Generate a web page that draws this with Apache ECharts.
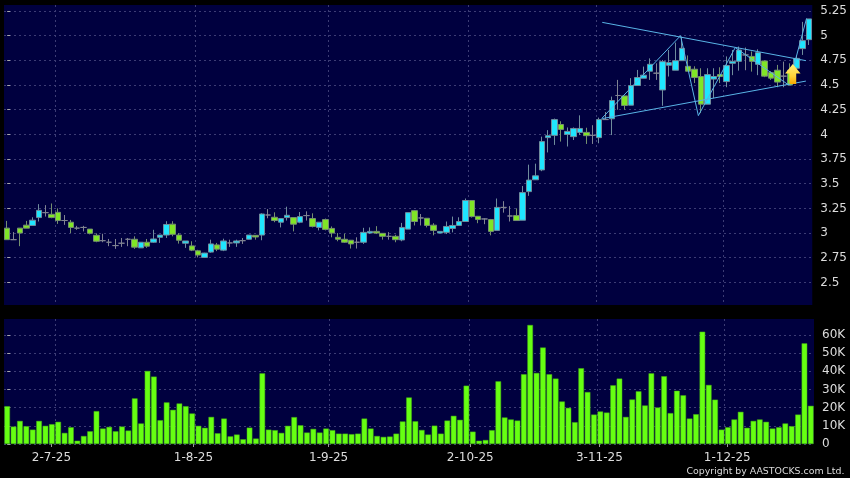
<!DOCTYPE html>
<html><head><meta charset="utf-8">
<style>html,body{margin:0;padding:0;background:#000}#c{width:850px;height:478px}</style>
<script src="https://cdn.jsdelivr.net/npm/echarts@6/dist/echarts.min.js"></script>
</head><body><div id="c"></div>
<script>
const opens=[3.05,2.933,3.05,3.08,3.077,3.157,3.207,3.19,3.21,3.127,3.11,3.05,3.057,3.04,2.977,2.923,2.907,2.873,2.897,2.937,2.937,2.85,2.907,2.907,2.957,2.98,3.09,2.98,2.897,2.87,2.82,2.753,2.807,2.88,2.827,2.9,2.9,2.923,2.937,2.977,2.98,3.183,3.16,3.11,3.157,3.157,3.11,3.177,3.147,3.057,3.137,3.047,2.957,2.937,2.927,2.907,2.907,3.0,3.017,2.997,2.967,2.967,2.93,3.04,3.227,3.153,3.15,3.08,3.0,3.007,3.047,3.077,3.117,3.33,3.17,3.143,3.137,3.027,3.26,3.173,3.177,3.13,3.42,3.54,3.64,3.967,3.99,4.1,4.0,3.977,4.02,4.02,3.99,3.967,4.15,4.158,4.394,4.39,4.296,4.495,4.569,4.64,4.62,4.45,4.7,4.65,4.747,4.69,4.66,4.586,4.306,4.56,4.606,4.535,4.72,4.74,4.805,4.79,4.71,4.744,4.626,4.65,4.59,4.65,4.67,4.869,4.96];
const closes=[2.933,2.933,3.0,3.05,3.13,3.23,3.207,3.157,3.127,3.127,3.057,3.05,3.057,2.997,2.917,2.923,2.907,2.873,2.897,2.937,2.857,2.907,2.867,2.94,2.98,3.087,2.987,2.927,2.92,2.827,2.777,2.797,2.89,2.837,2.92,2.9,2.92,2.923,2.98,2.96,3.193,3.183,3.127,3.147,3.18,3.09,3.167,3.177,3.067,3.11,3.037,3.0,2.937,2.907,2.89,2.907,3.007,3.017,3.0,2.967,2.967,2.933,3.057,3.207,3.117,3.153,3.077,3.027,3.017,3.067,3.077,3.117,3.33,3.167,3.137,3.143,3.017,3.26,3.26,3.173,3.127,3.41,3.537,3.58,3.927,3.987,4.15,4.05,4.03,4.06,4.06,3.987,3.99,4.15,4.15,4.343,4.394,4.293,4.495,4.576,4.6,4.71,4.62,4.737,4.727,4.747,4.872,4.64,4.576,4.306,4.606,4.586,4.586,4.697,4.74,4.855,4.805,4.74,4.828,4.59,4.57,4.53,4.59,4.5,4.77,4.95,5.17];
const lows=[2.93,2.933,2.867,3.05,3.077,3.117,3.167,3.15,3.093,3.083,3.0,3.033,3.017,2.987,2.907,2.907,2.867,2.84,2.86,2.867,2.84,2.85,2.85,2.9,2.9,2.95,2.967,2.893,2.85,2.817,2.753,2.747,2.8,2.817,2.817,2.86,2.86,2.89,2.933,2.933,2.927,3.15,3.11,3.057,3.127,3.017,3.1,3.127,3.057,3.027,3.027,2.957,2.917,2.9,2.843,2.843,2.89,2.99,2.99,2.933,2.933,2.907,2.917,3.04,3.077,3.077,3.057,2.977,3.0,2.99,3.007,3.077,3.117,3.157,3.1,3.09,2.977,3.027,3.207,3.117,3.127,3.13,3.377,3.54,3.627,3.817,3.893,3.927,3.877,3.943,3.993,3.903,3.903,3.91,4.15,3.993,4.25,4.25,4.296,4.495,4.57,4.552,4.552,4.29,4.586,4.65,4.747,4.64,4.52,4.215,4.306,4.367,4.52,4.478,4.6,4.646,4.65,4.636,4.6,4.58,4.552,4.478,4.478,4.5,4.66,4.805,4.906];
const highs=[3.123,3.01,3.05,3.123,3.16,3.293,3.283,3.3,3.25,3.183,3.133,3.073,3.073,3.04,2.997,2.993,2.94,2.94,2.95,2.95,2.967,2.907,2.94,3.033,2.98,3.12,3.12,3.0,2.92,2.917,2.83,2.8,2.933,2.9,2.943,2.933,2.933,2.95,2.98,2.98,3.2,3.243,3.21,3.147,3.267,3.157,3.213,3.22,3.2,3.11,3.147,3.067,3.0,2.993,2.93,2.957,3.053,3.057,3.07,3.0,3.01,2.983,3.103,3.207,3.233,3.193,3.15,3.1,3.017,3.117,3.167,3.16,3.35,3.33,3.17,3.15,3.143,3.35,3.323,3.273,3.25,3.477,3.693,3.703,3.977,4.043,4.16,4.133,4.07,4.07,4.193,4.067,4.093,4.17,4.227,4.383,4.552,4.39,4.57,4.653,4.687,4.77,4.72,4.754,4.855,4.93,4.99,4.8,4.69,4.67,4.67,4.67,4.68,4.79,4.855,4.89,4.88,4.84,4.862,4.75,4.64,4.704,4.737,4.72,4.8,5.14,5.17];
const volumes=[20.8,9.6,12.7,9.8,7.9,12.7,10,10.9,12.2,6.1,9.2,1.8,4.4,7,18.1,8.5,9.4,7,9.6,7.4,25.1,11.3,40.2,37.1,13.1,22.9,18.8,22.3,20.8,16.8,10,8.9,14.9,5.9,14,4.2,5.2,2.6,9,3,38.9,7.9,7.6,6.1,10,14.8,10.3,6.3,8.3,6.3,8.5,7.6,5.7,5.7,5.4,5.7,14,8.5,4.4,3.9,4.1,5.7,12.4,25.6,12.5,7.7,5.2,10.1,5.7,12.9,15.5,13.3,32.1,6.8,1.8,2.2,7.6,34.5,14.6,13.5,12.9,38.4,65.5,39.1,53.1,38.4,36,23.4,19.9,12,41.7,28.6,16.2,17.9,17.3,32.3,36,14.9,24.5,29,21.2,38.9,20.1,37.3,17,29.3,26.8,14,16.4,61.8,32.5,24.4,7.9,9.2,13.5,17.7,8.9,12.7,13.5,12.2,8.5,9.2,11.3,9.8,16.2,55.4,21];
const categories=opens.map((_,i)=>String(i));
const priceTicks=[2.5,2.75,3,3.25,3.5,3.75,4,4.25,4.5,4.75,5,5.25];
const volumeTicks=[0,10,20,30,40,50,60];
const dateLabels=['2-7-25','1-8-25','1-9-25','2-10-25','3-11-25','1-12-25'];
const dateTickPos=[6.94,29.2,50.4,72.6,92.85,112.9];
const dateGridPos=[7.5,29.5,50.5,72.5,92.5,112.5];
const upperTrend=[[93.5,5.135],[125.5,4.747]];
const lowerTrend=[[93.5,4.16],[125.5,4.54]];
const zigzag=[[93.4,4.16],[105.8,5.0],[108.6,4.19],[114.4,4.88],[122.8,4.5],[125.6,5.175]];
const arrowPoint=[[123.44,4.612]];

const BG='#00003f',GRID='#3c3c74',TXT='#dcdcdc',LINE='#59b4e6';
const gridSplit={show:true,lineStyle:{color:GRID,type:[2,3],width:1}};
const L={left:4,width:810};
const xBase={type:'value',min:-0.5,max:126.5,axisLine:{show:false},axisLabel:{show:false},axisTick:{show:false},splitLine:{show:false}};
const xCat={type:'category',data:categories,axisLine:{show:false},axisLabel:{show:false},axisTick:{show:false},splitLine:{show:false}};
const chart=echarts.init(document.getElementById('c'),null,{renderer:'canvas'});
const lineSeries=(d,name)=>({type:'line',name,data:d,xAxisIndex:1,yAxisIndex:0,symbol:'none',silent:true,z:5,lineStyle:{color:LINE,width:1}});
chart.setOption({
 animation:false,backgroundColor:'#000',
 grid:[
  Object.assign({top:5,height:300,show:true,backgroundColor:BG,borderWidth:0},L),
  Object.assign({top:319,height:125,show:true,backgroundColor:BG,borderWidth:0},L)
 ],
 xAxis:[
  Object.assign({},xCat,{gridIndex:0}),
  Object.assign({},xBase,{gridIndex:0,axisTick:{show:false,customValues:dateGridPos},splitLine:gridSplit}),
  Object.assign({},xBase,{gridIndex:1,position:'bottom',offset:3,
    axisTick:{show:true,length:3,customValues:dateTickPos,lineStyle:{color:'#999'}},
    axisLabel:{show:true,customValues:dateTickPos,margin:5,color:TXT,fontFamily:'DejaVu Sans',fontSize:12,hideOverlap:false,showMinLabel:true,showMaxLabel:true,
      formatter:v=>{const i=dateTickPos.findIndex(p=>Math.abs(p-v)<1e-6);return i<0?'':dateLabels[i];}}}),
  Object.assign({},xBase,{gridIndex:1,position:'top',axisTick:{show:false,customValues:dateGridPos},splitLine:gridSplit}),
  Object.assign({},xCat,{gridIndex:1})
 ],
 yAxis:[
  {type:'value',gridIndex:0,position:'right',offset:4,min:2.271,max:5.311,axisLine:{show:false},scale:true,
   axisTick:{show:true,length:3,customValues:priceTicks,lineStyle:{color:'#aaa'}},
   axisLabel:{show:true,customValues:priceTicks,margin:4,padding:[3,0,0,0],color:TXT,fontFamily:'DejaVu Sans',fontSize:12,formatter:v=>String(v)},
   splitLine:gridSplit},
  {type:'value',gridIndex:1,position:'right',offset:4,min:0,max:68.8,axisLine:{show:false},
   axisTick:{show:true,length:3,customValues:volumeTicks,lineStyle:{color:'#aaa'}},
   axisLabel:{show:true,customValues:volumeTicks,margin:4,padding:[3,0,0,0],color:TXT,fontFamily:'DejaVu Sans',fontSize:12,formatter:v=>v===0?'0':v+'K'},
   splitLine:gridSplit}
 ],
 series:[
  {type:'candlestick',name:'Price',xAxisIndex:0,yAxisIndex:0,barWidth:6,z:3,
   data:opens.map((o,i)=>[o,closes[i],lows[i],highs[i]]),
   itemStyle:{color:'#1fe6ff',color0:'#80e626',borderColor:'#6f8c9c',borderColor0:'#75906f',borderColorDoji:'#808492',borderWidth:1}},
  lineSeries(upperTrend,'Upper trend'),
  lineSeries(lowerTrend,'Lower trend'),
  lineSeries(zigzag,'Zigzag'),
  {type:'scatter',name:'Signal',xAxisIndex:1,yAxisIndex:0,data:arrowPoint,z:6,silent:true,
   symbol:'path://M50 0 L100 48 L72 48 L72 100 L28 100 L28 48 L0 48 Z',symbolSize:[15.5,20],
   itemStyle:{opacity:1,color:new echarts.graphic.LinearGradient(0,0,0,1,[{offset:0,color:'#fff07a'},{offset:0.6,color:'#ffd43a'},{offset:1,color:'#f5a800'}])}},
  {type:'bar',name:'Volume',xAxisIndex:4,yAxisIndex:1,data:volumes,barWidth:5.6,z:3,
   itemStyle:{color:'#66ff12',borderColor:'#46b014',borderWidth:0.5}}
 ],
 graphic:[{type:'text',left:686.5,top:467,style:{text:'Copyright by AASTOCKS.com Ltd.',fill:TXT,font:'9.4px "DejaVu Sans"'}}]
});
</script></body></html>
